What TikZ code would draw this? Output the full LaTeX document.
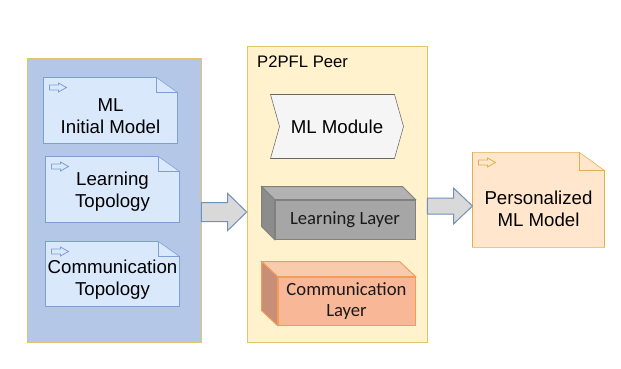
\documentclass[tikz,border=0pt]{standalone}
\usepackage{fontspec}
\setmainfont{Liberation Sans}
\newfontfamily\layerfont{Carlito}
\usetikzlibrary{positioning,calc,backgrounds}

\definecolor{inputblue}{HTML}{B4C7E7}
\definecolor{docblue}{HTML}{DAE8FC}
\definecolor{docline}{HTML}{7EA0D0}
\definecolor{peeryellow}{HTML}{FFF2CC}
\definecolor{peerline}{HTML}{E2C46E}
\definecolor{resultfill}{HTML}{FFE6CC}
\definecolor{resultline}{HTML}{E2AE48}
\definecolor{layerorange}{HTML}{F8B898}
\definecolor{layertop}{HTML}{F8CBAD}
\definecolor{layerside}{HTML}{C98E78}
\definecolor{layerline}{HTML}{F39C5A}

% note box with folded corner: node, colours, fold size
\newcommand\notebox[4]{%
  \draw[#2] (#1.north west) -- ([shift={(-#3,0)}]#1.north east)
    -- ([shift={(0,#4)}]#1.north east) -- (#1.south east)
    -- (#1.south west) -- cycle;
  \draw[#2, fill=none] ([shift={(-#3,0)}]#1.north east) -- ++(0,#4) -- ++(#3,0);
  % little arrow in the corner
  \draw[#2, fill=none, line width=0.6pt] ([shift={(6,7.5)}]#1.north west) -- ++(9,0) -- ++(0,-2)
    -- ++(8,4.5) -- ++(-8,4.5) -- ++(0,-2) -- ++(-9,0) -- cycle;
}
% box with a top and a left face: node, depth x, depth y, top, side, line
\newcommand\cube[6]{%
  \draw[#6, fill=#4] (#1.north west) -- ++(-#2,-#3) -- ([shift={(-#2,-#3)}]#1.north east)
    -- (#1.north east) -- cycle;
  \draw[#6, fill=#5] (#1.north west) -- ++(-#2,-#3) -- ([shift={(-#2,-#3)}]#1.south west)
    -- (#1.south west) -- cycle;
}
% fat grey arrow between two points
\newcommand\bigarrow[4]{%
  \draw[blockarrow] ($(#1)+(0,-#3)$) -- ($(#2)+(-19,-#3)$) -- ($(#2)+(-19,-#4)$)
    -- (#2) -- ($(#2)+(-19,#4)$) -- ($(#2)+(-19,#3)$) -- ($(#1)+(0,#3)$) -- cycle;
}

\begin{document}
\begin{tikzpicture}[x=0.75pt, y=-0.75pt, line width=0.75pt,
    size/.style 2 args={minimum width=#1*0.75pt, minimum height=#2*0.75pt},
    panel/.style={inner sep=0pt},
    txt/.style={inner sep=0pt, align=center, font=\fontsize{14}{16.5}\selectfont},
    layertxt/.style={inner sep=0pt, align=center, text=black!90,
      font=\layerfont\fontsize{14}{16}\selectfont},
    blockarrow/.style={draw=docline!90!black, fill=black!15, line join=miter}]
  \useasboundingbox (0,0) rectangle (621,368);

  \begin{scope}[on background layer]
    \fill[white] (0,0) rectangle (621,368);
    % the two containers
    \node[panel, size={174}{284}, fill=inputblue, draw=peerline] (inputs) at (114,200) {};
    \node[panel, size={180}{296}, fill=peeryellow, draw=peerline] (peer) at (337,194) {};
  \end{scope}
  \node[anchor=base west, inner sep=0pt, font=\fontsize{12.5}{15}\selectfont]
    at ([shift={(10,22)}]peer.north west) {P2PFL Peer};

  % inputs (text sits a bit below the middle of each note)
  \node[txt, size={133}{65}] (initmodel) at (110.5,116.5) {ML\\Initial Model};
  \node[txt, size={133}{65}] (learntopo) at (112.5,191.5) {Learning\\Topology};
  \node[txt, size={133}{64}] (commtopo) at (112.5,280) {Communication\\Topology};
  \node[txt, size={131}{94}] (result) at (538.5,208.5) {Personalized\\ML Model};

  \begin{scope}[on background layer]
    \foreach \n/\up in {initmodel/4.5pt, learntopo/1.5pt, commtopo/4.5pt}
      \notebox{\n}{draw=docline, fill=docblue, transform canvas={yshift=\up}}{21}{15};
    \notebox{result}{draw=resultline, fill=resultfill, transform canvas={yshift=6.4pt}}{25}{18}
  \end{scope}

  % peer parts
  \node[txt, size={132}{63}] (mlmodule) at (337,126.5) {ML Module};
  \begin{scope}[on background layer]
    \draw[draw=black!60, fill=black!4] (mlmodule.north west)
      -- ([shift={(-9,0)}]mlmodule.north east) -- (mlmodule.east)
      -- ([shift={(-9,0)}]mlmodule.south east) -- (mlmodule.south west)
      -- ([shift={(9,0)}]mlmodule.west) -- cycle;
  \end{scope}

  \node[layertxt, size={140}{39}, fill=black!35, draw=black!50] (learnlayer) at (345,219.5) {Learning Layer};
  \cube{learnlayer}{13}{13}{black!30}{black!45}{draw=black!50}
  \node[layertxt, size={137}{48}, fill=layerorange, draw=layerline] (commlayer) at (346.5,301) {Communication\\Layer};
  \cube{commlayer}{16}{15}{layertop}{layerside}{draw=layerline}

  % flow
  \coordinate (a1s) at (inputs.east |- 0,212);
  \coordinate (a1e) at (peer.west |- 0,212);
  \coordinate (a2s) at (peer.east |- 0,206);
  \coordinate (a2e) at (result.west |- 0,206);
  \bigarrow{a1s}{a1e}{9.5}{18.5}
  \bigarrow{a2s}{a2e}{8}{18}
\end{tikzpicture}
\end{document}
